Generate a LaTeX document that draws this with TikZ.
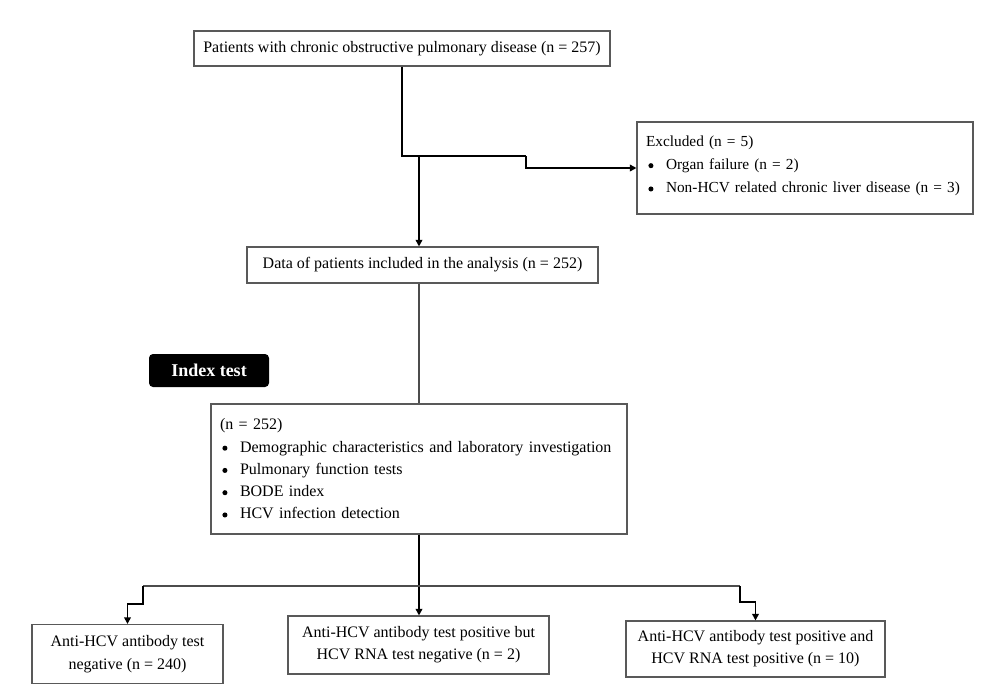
\documentclass[tikz,border=0pt]{standalone}
\usepackage{fontspec}
\setmainfont{Liberation Serif}
\usetikzlibrary{arrows.meta}
\newcommand{\bul}{\makebox[15pt][l]{\hspace{1.8pt}\tikz[baseline=-3pt]\fill (0,0) circle (1.9pt);}}
\begin{document}
\begin{tikzpicture}[x=0.75pt,y=-0.75pt,>={Triangle[length=5pt,width=5pt]}]
        \tikzstyle{box}=[draw=black!65,line width=0.8pt,inner sep=0pt,font=\fontsize{12}{16.5}\selectfont]
        \tikzstyle{listbox}=[box,align=left,text width=#1]
        \tikzstyle{mainline}=[draw,line width=1.4pt]
        \tikzstyle{thinline}=[draw=black!70,line width=0.8pt]
        \useasboundingbox (0,0) rectangle (1000,690);
        % boxes (sizes given in px, 1px = 0.75pt)
        \node [box,minimum width=0.75*416,minimum height=0.75*35] (top) at (402,48.5) {Patients with chronic obstructive pulmonary disease (n = 257)};
        \node [listbox=238.5pt,minimum width=0.75*336,minimum height=0.75*92,font=\fontsize{11.5}{17.5}\selectfont] (excl) at (805,168) {Excluded (n = 5)\\ \bul Organ failure (n = 2)\\ \bul Non-HCV related chronic liver disease (n = 3)\\[-12pt]\mbox{}};
        \node [box,minimum width=0.75*351,minimum height=0.75*36] (incl) at (422.5,265) {Data of patients included in the analysis (n = 252)};
        \node [fill=black,text=white,rounded corners=3pt,minimum width=0.75*120,minimum height=0.75*33,font=\fontsize{13.5}{15}\selectfont\bfseries] (label) at (209,370.5) {Index test};
        \node [listbox=298.5pt,minimum width=0.75*416,minimum height=0.75*130,font=\fontsize{12}{16.7}\selectfont] (idx) at (419,469) {(n = 252)\\ \bul Demographic characteristics and laboratory investigation\\ \bul Pulmonary function tests\\ \bul BODE index\\ \bul HCV infection detection};
        \node [box,align=center,minimum width=0.75*191,minimum height=0.75*59,font=\fontsize{12}{17}\selectfont] (neg) at (127.5,654) {Anti-HCV antibody test\\ negative (n = 240)};
        \node [box,align=center,minimum width=0.75*261,minimum height=0.75*58] (posneg) at (418.5,645) {Anti-HCV antibody test positive but\\ HCV RNA test negative (n = 2)};
        \node [box,align=center,minimum width=0.75*259,minimum height=0.75*56] (pospos) at (755.5,649) {Anti-HCV antibody test positive and\\ HCV RNA test positive (n = 10)};
        % connectors
        \coordinate (split) at (526,156);
        \coordinate (branch) at (419,156);
        \coordinate (hl) at (143,586);
        \coordinate (hr) at (740,586);
        \path[mainline] (top.south) |- (split);
        \path[mainline,->] (split) |- (excl.west);
        \path[mainline,->] (branch) -- (branch |- incl.north);
        \path[thinline] (idx.north |- incl.south) -- (idx.north);
        \path[mainline,->] (idx.south) -- (idx.south |- posneg.north);
        \path[thinline] (hl) -- (hr);
        \path[mainline,->] (hl) -- ++(0,18) -| (neg.north);
        \path[mainline,->] (hr) -- ++(0,16) -| (pospos.north);
\end{tikzpicture}
\end{document}
